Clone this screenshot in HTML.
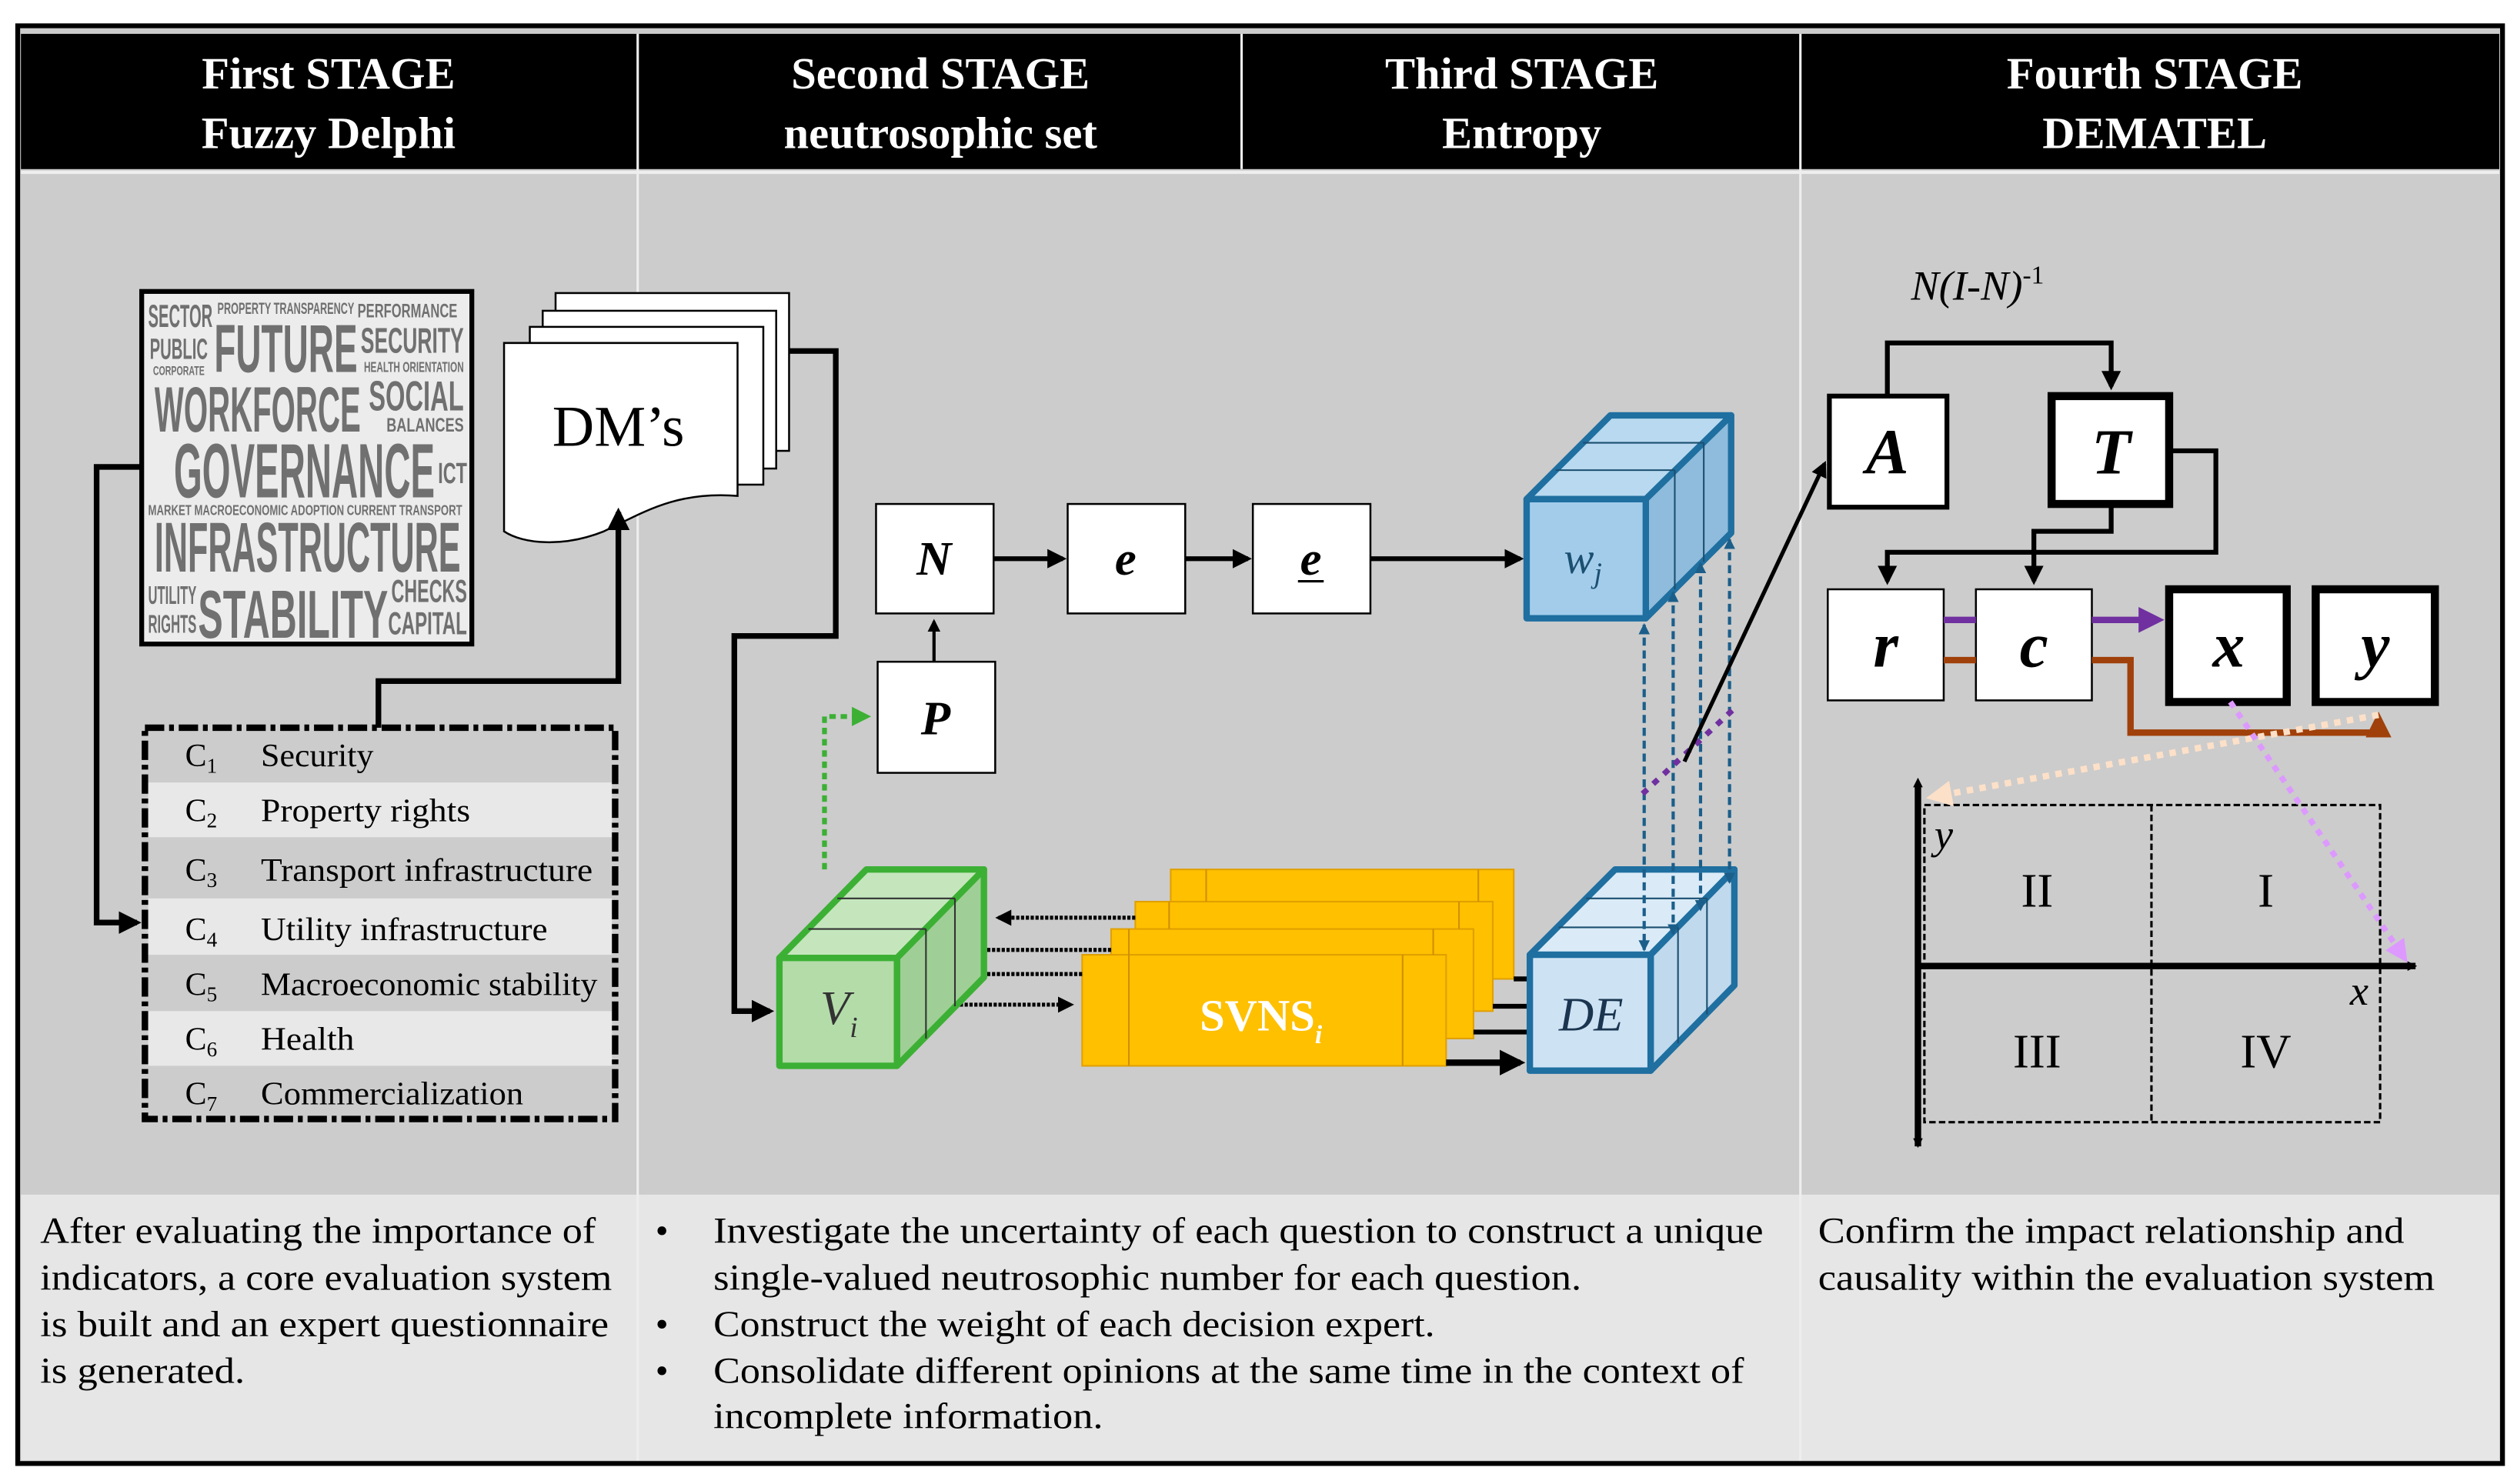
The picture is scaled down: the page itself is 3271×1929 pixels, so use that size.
<!DOCTYPE html>
<html><head><meta charset="utf-8"><style>
html,body{margin:0;padding:0;background:#fff;}
svg{display:block;}
</style></head><body>
<svg width="3271" height="1929" viewBox="0 0 1563 921.7" xmlns="http://www.w3.org/2000/svg" font-family="'Liberation Serif', serif">
<defs>
<marker id="ab" markerWidth="4" markerHeight="4" refX="3.2" refY="2" orient="auto" markerUnits="strokeWidth"><path d="M0,0 L4,2 L0,4 z" fill="#000"/></marker>
<marker id="ab2" markerWidth="6" markerHeight="6" refX="5" refY="3" orient="auto" markerUnits="userSpaceOnUse"><path d="M0,0 L6,3 L0,6 z" fill="#000"/></marker>
<marker id="abs" markerWidth="6" markerHeight="6" refX="1" refY="3" orient="auto-start-reverse" markerUnits="userSpaceOnUse"><path d="M0,0 L6,3 L0,6 z" fill="#000"/></marker>
<marker id="ablue" markerWidth="7" markerHeight="7" refX="6" refY="3.5" orient="auto-start-reverse" markerUnits="userSpaceOnUse"><path d="M0,0 L7,3.5 L0,7 z" fill="#1b5e8a"/></marker>
<marker id="agreen" markerWidth="4" markerHeight="4" refX="3" refY="2" orient="auto" markerUnits="strokeWidth"><path d="M0,0 L4,2 L0,4 z" fill="#3cb034"/></marker>
<marker id="apur" markerWidth="4" markerHeight="4" refX="3" refY="2" orient="auto" markerUnits="strokeWidth"><path d="M0,0 L4,2 L0,4 z" fill="#7030a0"/></marker>
<marker id="abrn" markerWidth="4" markerHeight="4" refX="3" refY="2" orient="auto" markerUnits="strokeWidth"><path d="M0,0 L4,2 L0,4 z" fill="#a0400a"/></marker>
<marker id="apeach" markerWidth="4" markerHeight="4" refX="3" refY="2" orient="auto" markerUnits="strokeWidth"><path d="M0,0 L4,2 L0,4 z" fill="#fde0c8"/></marker>
<marker id="aviol" markerWidth="4" markerHeight="4" refX="3" refY="2" orient="auto" markerUnits="strokeWidth"><path d="M0,0 L4,2 L0,4 z" fill="#dd99ff"/></marker>
</defs>
<rect x="0" y="0" width="1563" height="922" fill="#fff"/>
<rect x="11" y="16" width="1543" height="893" fill="#ccc" stroke="#000" stroke-width="3"/>
<rect x="13" y="21" width="1539" height="84" fill="#000"/>
<rect x="13" y="742" width="1539" height="165" fill="#e6e6e6"/>
<line x1="396" y1="21" x2="396" y2="907" stroke="#eee" stroke-width="1.5"/>
<line x1="771" y1="21" x2="771" y2="105" stroke="#eee" stroke-width="1.5"/>
<line x1="1118" y1="21" x2="1118" y2="907" stroke="#eee" stroke-width="1.5"/>
<line x1="13" y1="107" x2="1552" y2="107" stroke="#eee" stroke-width="2"/>
<g fill="#fff" font-weight="bold" font-size="28" text-anchor="middle">
<text x="204" y="55">First STAGE</text><text x="204" y="92">Fuzzy Delphi</text>
<text x="584" y="55">Second STAGE</text><text x="584" y="92">neutrosophic set</text>
<text x="945" y="55">Third STAGE</text><text x="945" y="92">Entropy</text>
<text x="1338" y="55">Fourth STAGE</text><text x="1338" y="92">DEMATEL</text>
</g>

<rect x="88" y="181" width="205" height="219" fill="#ececec" stroke="#000" stroke-width="3"/>
<g fill="#707070" font-family="'Liberation Sans Narrow','Liberation Sans',sans-serif" font-weight="bold">
<text x="92" y="203" font-size="20" textLength="40" lengthAdjust="spacingAndGlyphs">SECTOR</text>
<text x="135" y="195" font-size="10" textLength="85" lengthAdjust="spacingAndGlyphs">PROPERTY TRANSPARENCY</text>
<text x="222" y="197" font-size="12" textLength="62" lengthAdjust="spacingAndGlyphs">PERFORMANCE</text>
<text x="93" y="223" font-size="18" textLength="36" lengthAdjust="spacingAndGlyphs">PUBLIC</text>
<text x="95" y="233" font-size="8" textLength="32" lengthAdjust="spacingAndGlyphs">CORPORATE</text>
<text x="133" y="231" font-size="42" textLength="89" lengthAdjust="spacingAndGlyphs">FUTURE</text>
<text x="224" y="219" font-size="22" textLength="64" lengthAdjust="spacingAndGlyphs">SECURITY</text>
<text x="226" y="231" font-size="9" textLength="62" lengthAdjust="spacingAndGlyphs">HEALTH ORIENTATION</text>
<text x="96" y="268" font-size="40" textLength="128" lengthAdjust="spacingAndGlyphs">WORKFORCE</text>
<text x="229" y="255" font-size="26" textLength="59" lengthAdjust="spacingAndGlyphs">SOCIAL</text>
<text x="240" y="268" font-size="12" textLength="48" lengthAdjust="spacingAndGlyphs">BALANCES</text>
<text x="108" y="309" font-size="48" textLength="162" lengthAdjust="spacingAndGlyphs">GOVERNANCE</text>
<text x="272" y="300" font-size="18" textLength="18" lengthAdjust="spacingAndGlyphs">ICT</text>
<text x="92" y="320" font-size="9" textLength="195" lengthAdjust="spacingAndGlyphs">MARKET MACROECONOMIC ADOPTION CURRENT TRANSPORT</text>
<text x="96" y="355" font-size="44" textLength="190" lengthAdjust="spacingAndGlyphs">INFRASTRUCTURE</text>
<text x="92" y="375" font-size="16" textLength="30" lengthAdjust="spacingAndGlyphs">UTILITY</text>
<text x="92" y="393" font-size="16" textLength="30" lengthAdjust="spacingAndGlyphs">RIGHTS</text>
<text x="123" y="396" font-size="42" textLength="118" lengthAdjust="spacingAndGlyphs">STABILITY</text>
<text x="243" y="374" font-size="20" textLength="47" lengthAdjust="spacingAndGlyphs">CHECKS</text>
<text x="241" y="394" font-size="20" textLength="49" lengthAdjust="spacingAndGlyphs">CAPITAL</text>
</g>

<g fill="#fff" stroke="#000" stroke-width="1.2">
<rect x="345" y="182" width="145" height="98"/>
<rect x="337" y="193" width="145" height="98"/>
<rect x="329" y="203" width="145" height="98"/>
<path d="M313,213 H458 V308 C420,305 400,318 375,330 C350,340 325,338 313,330 Z"/>
</g>
<text x="384" y="277" font-size="36" text-anchor="middle">DM’s</text>

<g fill="none" stroke="#000" stroke-width="3.5">
<polyline points="490,218 519,218 519,395 456,395 456,628 478,628" marker-end="url(#ab)"/>
<polyline points="87,290 60,290 60,573 85,573" marker-end="url(#ab)"/>
<polyline points="235,452 235,423 384,423 384,318" marker-end="url(#ab)"/>
</g>

<rect x="90" y="452" width="292" height="243" fill="#ccc"/>
<rect x="92" y="486" width="288" height="34" fill="#e8e8e8"/>
<rect x="92" y="558" width="288" height="35" fill="#e8e8e8"/>
<rect x="92" y="628" width="288" height="34" fill="#e8e8e8"/>
<rect x="90" y="452" width="292" height="243" fill="none" stroke="#000" stroke-width="4" stroke-dasharray="12,3,3,3"/>
<g font-size="20" fill="#000">
<text x="115" y="476">C<tspan font-size="13" dy="4">1</tspan></text><text x="162" y="476" textLength="70" lengthAdjust="spacingAndGlyphs">Security</text>
<text x="115" y="510">C<tspan font-size="13" dy="4">2</tspan></text><text x="162" y="510" textLength="130" lengthAdjust="spacingAndGlyphs">Property rights</text>
<text x="115" y="547">C<tspan font-size="13" dy="4">3</tspan></text><text x="162" y="547" textLength="206" lengthAdjust="spacingAndGlyphs">Transport infrastructure</text>
<text x="115" y="584">C<tspan font-size="13" dy="4">4</tspan></text><text x="162" y="584" textLength="178" lengthAdjust="spacingAndGlyphs">Utility infrastructure</text>
<text x="115" y="618">C<tspan font-size="13" dy="4">5</tspan></text><text x="162" y="618" textLength="209" lengthAdjust="spacingAndGlyphs">Macroeconomic stability</text>
<text x="115" y="652">C<tspan font-size="13" dy="4">6</tspan></text><text x="162" y="652" textLength="58" lengthAdjust="spacingAndGlyphs">Health</text>
<text x="115" y="686">C<tspan font-size="13" dy="4">7</tspan></text><text x="162" y="686" textLength="163" lengthAdjust="spacingAndGlyphs">Commercialization</text>
</g>

<g fill="#fff" stroke="#000" stroke-width="1.2">
<rect x="544" y="313" width="73" height="68"/>
<rect x="663" y="313" width="73" height="68"/>
<rect x="778" y="313" width="73" height="68"/>
<rect x="545" y="411" width="73" height="69"/>
</g>
<g font-size="30" font-style="italic" font-weight="bold" text-anchor="middle">
<text x="580" y="357">N</text><text x="699" y="357">e</text><text x="814" y="357">e</text><text x="581" y="456">P</text>
</g>
<line x1="806" y1="361" x2="822" y2="361" stroke="#000" stroke-width="1.5"/>
<g fill="none" stroke="#000" stroke-width="3">
<line x1="617" y1="347" x2="660" y2="347" marker-end="url(#ab)"/>
<line x1="736" y1="347" x2="775" y2="347" marker-end="url(#ab)"/>
<line x1="851" y1="347" x2="944" y2="347" marker-end="url(#ab)"/>
</g>
<line x1="580" y1="411" x2="580" y2="386" stroke="#000" stroke-width="2" marker-end="url(#ab)"/>
<polyline points="512,540 512,445 538,445" fill="none" stroke="#3cb034" stroke-width="3" stroke-dasharray="4,3" marker-end="url(#agreen)"/>

<g fill="#ffc000" stroke="#e0a000" stroke-width="1">
<rect x="727" y="540" width="213" height="68"/>
<rect x="705" y="560" width="222" height="68"/>
<rect x="690" y="577" width="225" height="68"/>
<rect x="672" y="593" width="226" height="69"/>
</g>
<g stroke="#d09000" stroke-width="1">
<line x1="749" y1="540" x2="749" y2="560"/><line x1="918" y1="540" x2="918" y2="560"/>
<line x1="726" y1="560" x2="726" y2="577"/><line x1="906" y1="560" x2="906" y2="577"/>
<line x1="701" y1="577" x2="701" y2="593"/><line x1="890" y1="577" x2="890" y2="593"/>
<line x1="701" y1="593" x2="701" y2="662"/><line x1="871" y1="593" x2="871" y2="662"/>
</g>
<text x="783" y="640" font-size="28" fill="#fff" font-weight="bold" text-anchor="middle">SVNS<tspan font-size="16" dy="8" font-style="italic">i</tspan></text>
<g fill="none" stroke="#000" stroke-width="3">
<line x1="940" y1="608" x2="950" y2="608"/>
<line x1="927" y1="625" x2="950" y2="625"/>
<line x1="915" y1="641" x2="950" y2="641"/>
<line x1="898" y1="660" x2="944" y2="660" stroke-width="4" marker-end="url(#ab)"/>
</g>
<g fill="none" stroke="#000" stroke-width="2.5" stroke-dasharray="2,1">
<line x1="705" y1="570" x2="620" y2="570" marker-end="url(#ab)"/>
<line x1="690" y1="590" x2="604" y2="590" marker-end="url(#ab)"/>
<line x1="672" y1="605" x2="588" y2="605" marker-end="url(#ab)"/>
<line x1="566" y1="624" x2="665" y2="624" marker-end="url(#ab)" marker-start="url(#abs)"/>
</g>

<g stroke="#3cb034" stroke-width="4" stroke-linejoin="round">
<path d="M484,595 L538,540 L611,540 L557,595 Z" fill="#c5e6bd"/>
<path d="M557,595 L611,540 L611,607 L557,662 Z" fill="#9fcf96"/>
<rect x="484" y="595" width="73" height="67" fill="#b3dca9"/>
</g>
<g stroke="#333" stroke-width="1" fill="none">
<line x1="520" y1="558" x2="593" y2="558"/><line x1="502" y1="577" x2="575" y2="577"/>
<line x1="575" y1="577" x2="575" y2="645"/><line x1="593" y1="558" x2="593" y2="625"/>
</g>
<text x="521" y="636" font-size="30" font-style="italic" text-anchor="middle" fill="#333">V<tspan font-size="18" dy="8">i</tspan></text>

<g stroke="#1f6fa0" stroke-width="4" stroke-linejoin="round">
<path d="M948,310 L1000,258 L1075,258 L1022,310 Z" fill="#b8d9ef"/>
<path d="M1022,310 L1075,258 L1075,331 L1022,384 Z" fill="#8fbcdc"/>
<rect x="948" y="310" width="74" height="74" fill="#a3cceb"/>
</g>
<g stroke="#1b4f70" stroke-width="1" fill="none">
<line x1="983" y1="275" x2="1058" y2="275"/><line x1="966" y1="292" x2="1040" y2="292"/>
<line x1="1040" y1="292" x2="1040" y2="366"/><line x1="1058" y1="275" x2="1058" y2="349"/>
</g>
<text x="983" y="356" font-size="28" font-style="italic" text-anchor="middle" fill="#1b4f70">w<tspan font-size="18" dy="6">j</tspan></text>

<g stroke="#1f6fa0" stroke-width="4" stroke-linejoin="round">
<path d="M950,593 L1003,540 L1077,540 L1025,593 Z" fill="#daebf7"/>
<path d="M1025,593 L1077,540 L1077,612 L1025,665 Z" fill="#c0d9ec"/>
<rect x="950" y="593" width="75" height="72" fill="#cde3f4"/>
</g>
<g stroke="#1b4f70" stroke-width="1" fill="none">
<line x1="985" y1="558" x2="1060" y2="558"/><line x1="968" y1="576" x2="1042" y2="576"/>
<line x1="1042" y1="576" x2="1042" y2="648"/><line x1="1060" y1="558" x2="1060" y2="630"/>
</g>
<text x="988" y="640" font-size="30" font-style="italic" text-anchor="middle" fill="#1b3550">DE</text>

<g stroke="#1b5e8a" stroke-width="2" stroke-dasharray="5,3" fill="none">
<line x1="1021" y1="388" x2="1021" y2="590" marker-start="url(#ablue)" marker-end="url(#ablue)"/>
<line x1="1039" y1="368" x2="1039" y2="580" marker-start="url(#ablue)" marker-end="url(#ablue)"/>
<line x1="1056" y1="350" x2="1056" y2="565" marker-start="url(#ablue)" marker-end="url(#ablue)"/>
<line x1="1074" y1="335" x2="1074" y2="548" marker-start="url(#ablue)" marker-end="url(#ablue)"/>
</g>
<line x1="1020" y1="493" x2="1077" y2="440" stroke="#7030a0" stroke-width="3.5" stroke-dasharray="4,5"/>
<line x1="1046" y1="473" x2="1133" y2="288" stroke="#000" stroke-width="2.5" marker-end="url(#ab)"/>

<text x="1228" y="186" font-size="26" font-style="italic" text-anchor="middle">N(I-N)<tspan font-size="16" dy="-10" font-style="normal">-1</tspan></text>
<g fill="#fff" stroke="#000">
<rect x="1136" y="246" width="73" height="69" stroke-width="3"/>
<rect x="1274" y="246" width="73" height="67" stroke-width="5"/>
<rect x="1135" y="366" width="72" height="69" stroke-width="1.2"/>
<rect x="1227" y="366" width="72" height="69" stroke-width="1.2"/>
<rect x="1347" y="366" width="73" height="70" stroke-width="5"/>
<rect x="1438" y="366" width="74" height="70" stroke-width="5"/>
</g>
<g font-size="40" font-style="italic" font-weight="bold" text-anchor="middle">
<text x="1172" y="294">A</text><text x="1311" y="294">T</text>
<text x="1171" y="414">r</text><text x="1263" y="414">c</text>
<text x="1384" y="414">x</text><text x="1475" y="414">y</text>
</g>
<g fill="none" stroke="#000" stroke-width="3">
<polyline points="1172,246 1172,213 1311,213 1311,240" marker-end="url(#ab)"/>
<polyline points="1347,280 1376,280 1376,343 1172,343 1172,361" marker-end="url(#ab)"/>
<polyline points="1311,313 1311,330 1263,330 1263,361" marker-end="url(#ab)"/>
</g>
<line x1="1207" y1="385" x2="1227" y2="385" stroke="#7030a0" stroke-width="4"/>
<line x1="1299" y1="385" x2="1340" y2="385" stroke="#7030a0" stroke-width="4" marker-end="url(#apur)"/>
<line x1="1207" y1="410" x2="1227" y2="410" stroke="#a0400a" stroke-width="4"/>
<polyline points="1299,410 1323,410 1323,455 1477,455 1477,446" fill="none" stroke="#a0400a" stroke-width="4" marker-end="url(#abrn)"/>

<rect x="1195" y="500" width="283" height="197" fill="none" stroke="#000" stroke-width="1.5" stroke-dasharray="4,2"/>
<line x1="1336" y1="500" x2="1336" y2="697" stroke="#000" stroke-width="1.5" stroke-dasharray="4,2"/>
<line x1="1191" y1="488" x2="1191" y2="712" stroke="#000" stroke-width="4" marker-start="url(#abs)" marker-end="url(#ab2)"/>
<line x1="1191" y1="600" x2="1500" y2="600" stroke="#000" stroke-width="4" marker-end="url(#ab2)"/>
<g font-size="30" text-anchor="middle">
<text x="1265" y="563">II</text><text x="1407" y="563">I</text>
<text x="1265" y="663">III</text><text x="1407" y="663">IV</text>
</g>
<text x="1207" y="527" font-size="26" font-style="italic" text-anchor="middle">y</text>
<text x="1465" y="624" font-size="26" font-style="italic" text-anchor="middle">x</text>
<line x1="1477" y1="444" x2="1200" y2="495" stroke="#fde0c8" stroke-width="4" stroke-dasharray="4,4" marker-end="url(#apeach)"/>
<line x1="1385" y1="436" x2="1493" y2="595" stroke="#dd99ff" stroke-width="3.5" stroke-dasharray="4,4" marker-end="url(#aviol)"/>

<g font-size="23" fill="#000">
<text x="25" y="772" textLength="345" lengthAdjust="spacingAndGlyphs">After evaluating the importance of</text>
<text x="25" y="801" textLength="355" lengthAdjust="spacingAndGlyphs">indicators, a core evaluation system</text>
<text x="25" y="830" textLength="353" lengthAdjust="spacingAndGlyphs">is built and an expert questionnaire</text>
<text x="25" y="859" textLength="127" lengthAdjust="spacingAndGlyphs">is generated.</text>
<text x="407" y="772">•</text><text x="443" y="772" textLength="652" lengthAdjust="spacingAndGlyphs">Investigate the uncertainty of each question to construct a unique</text>
<text x="443" y="801" textLength="539" lengthAdjust="spacingAndGlyphs">single-valued neutrosophic number for each question.</text>
<text x="407" y="830">•</text><text x="443" y="830" textLength="448" lengthAdjust="spacingAndGlyphs">Construct the weight of each decision expert.</text>
<text x="407" y="859">•</text><text x="443" y="859" textLength="640" lengthAdjust="spacingAndGlyphs">Consolidate different opinions at the same time in the context of</text>
<text x="443" y="887" textLength="242" lengthAdjust="spacingAndGlyphs">incomplete information.</text>
<text x="1129" y="772" textLength="364" lengthAdjust="spacingAndGlyphs">Confirm the impact relationship and</text>
<text x="1129" y="801" textLength="383" lengthAdjust="spacingAndGlyphs">causality within the evaluation system</text>
</g>
</svg>
</body></html>
